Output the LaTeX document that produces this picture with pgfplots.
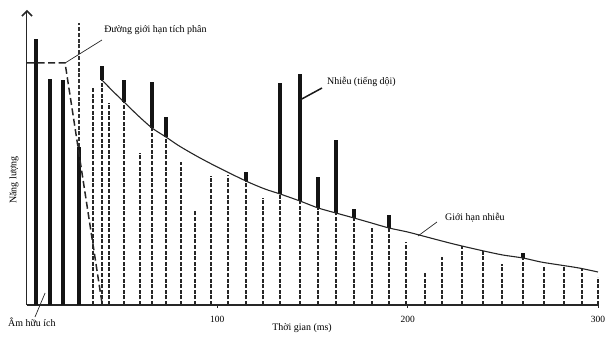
\documentclass[border=0pt]{standalone}
\usepackage{fontspec}
\setmainfont{Liberation Serif}
\usepackage{pgfplots}
\usepackage{pgfplotstable}
\pgfplotsset{compat=1.18}
\usetikzlibrary{arrows.meta}

\pgfplotstableread{
t e
4.7 266
12.1 226
18.9 225
27.3 158
}\useful

\pgfplotstableread{
t e
34.7 217
39.4 225
43.1 202
51.0 203
59.4 152
65.7 177
73.0 168
80.9 143
88.3 95
96.7 129
105.6 130
115.1 124
124.0 107
132.9 111
143.4 104
152.9 97
162.3 92
171.8 87
181.3 78
190.2 77
199.1 63
209.1 33
218.0 48
228.5 59
239.6 54
249.6 41
260.6 47
271.6 38
282.1 38
291.6 36
300.0 28
}\reflections

\begin{document}
\begin{tikzpicture}
\useasboundingbox (-27bp,-33bp) rectangle (585bp,305bp);
\begin{axis}[
  scale only axis, width=571bp, height=295bp,
  xmin=0, xmax=300, ymin=0, ymax=295,
  axis x line=bottom, axis y line=left,
  x axis line style={-, line width=1.1bp, black!85},
  y axis line style={-{Straight Barb[length=5bp,width=10bp,line width=1.5bp]}, line width=1bp, black!85},
  xtick={100,200,300}, ytick=\empty,
  xticklabels={100,200,300},
  tick align=outside, major tick length=3bp,
  tick style={black!85, line width=0.8bp},
  xticklabel style={font=\fontsize{9.5}{11}\selectfont, yshift=-5bp},
  clip=false,
  unbounded coords=jump,
  every axis plot/.append style={mark=none},
]
% useful sound (solid)
\addplot[ycomb, black!92, line width=3.6bp] table[x=t,y=e] {\useful};
\addplot[black!80, line width=1.5bp, dash pattern=on 4bp off 1.8bp] coordinates {(27.3,158) (27.3,282)};
% reflections below the noise limit (dashed)
\addplot[ycomb, black!85, line width=1.8bp, dash pattern=on 4bp off 1.6bp] table[x=t,y=e] {\reflections};
% noise (echo) parts above the limit (solid)
\addplot[black!92, line width=3.2bp] coordinates {
(39.4,225) (39.4,239) (nan,nan)
(51.0,203) (51.0,225) (nan,nan)
(65.7,177) (65.7,223) (nan,nan)
(73.0,168) (73.0,188) (nan,nan)
(115.1,124) (115.1,133) (nan,nan)
(132.9,111) (132.9,222) (nan,nan)
(143.4,104) (143.4,231) (nan,nan)
(152.9,97) (152.9,128) (nan,nan)
(162.3,92) (162.3,165) (nan,nan)
(171.8,87) (171.8,96) (nan,nan)
(190.2,77) (190.2,90) (nan,nan)
(260.6,47) (260.6,52)
};
% noise limit curve
\addplot[smooth, black!85, line width=1.1bp] coordinates {
(39.4,225) (45,214) (51,203) (58,190) (65.7,177) (73,168) (80,159) (90,148)
(100,138) (115,124) (125,116) (133,111) (143.4,104) (153,97) (162.3,92)
(171.8,87) (181,82) (190.2,77) (200,73) (210,68) (220,63) (228.5,59)
(240,54) (250,50) (260.6,47) (270,43) (280,40) (290,37) (300,33)
};
% integration limit line
\addplot[black!85, line width=1.5bp, dash pattern=on 7bp off 3.5bp] coordinates {(0,242) (20,242) (39.4,2)};

% leaders
\draw[black!85, line width=0.7bp] (axis cs:20,242) -- (axis cs:39.4,265);
\draw[black!85, line width=0.7bp] (axis cs:4.2,-12) -- (axis cs:9.5,12);
\draw[black!90, line width=1.5bp] (axis cs:143.4,205) -- (axis cs:155,217);
\draw[black!85, line width=0.7bp] (axis cs:205.4,69) -- (axis cs:215.4,83);

% texts
\begin{scope}[font=\fontsize{10}{12}\selectfont]
\node[anchor=west, inner sep=0pt] at (axis cs:40.5,275) {Đường giới hạn tích phân};
\node[anchor=west, inner sep=0pt] at (axis cs:157.6,223) {Nhiễu (tiếng dội)};
\node[anchor=west, inner sep=0pt] at (axis cs:219.6,87) {Giới hạn nhiễu};
\node[anchor=west, inner sep=0pt] at (axis cs:-10,-17) {Âm hữu ích};
\node[rotate=90, inner sep=0pt] at (axis cs:-6.8,125) {Năng lượng};
\node[inner sep=0pt] at (axis cs:144.5,-23) {Thời gian (ms)};
\end{scope}
\end{axis}
\end{tikzpicture}
\end{document}
